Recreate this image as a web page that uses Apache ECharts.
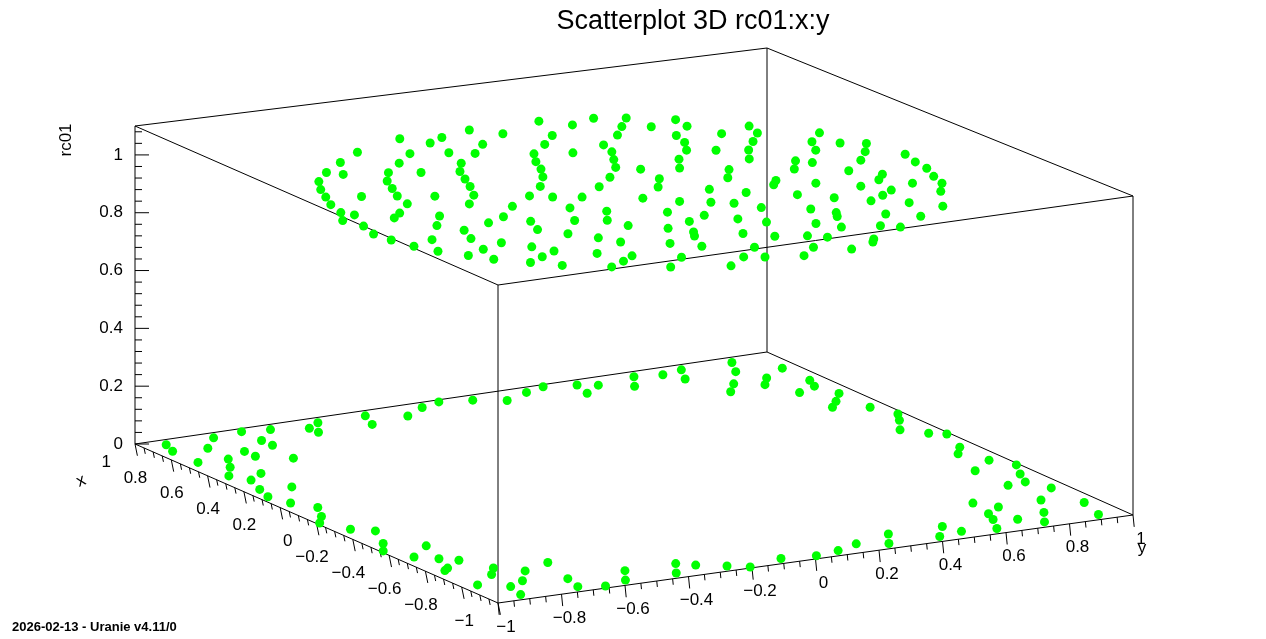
<!DOCTYPE html>
<html><head><meta charset="utf-8">
<script src="https://cdn.jsdelivr.net/npm/echarts@6/dist/echarts.min.js"></script>
<style>html,body{margin:0;padding:0;background:#fff}#main{width:1266px;height:639px}</style>
</head><body><div id="main"></div>
<script>
// rc01 = 1 : points of the inner disk [x, y]
var innerPts = [
[-0.85,-0.18],[-0.85,0.05],[-0.85,0.2],
[-0.78,-0.33],[-0.78,-0.1],[-0.78,0.12],[-0.78,0.31],
[-0.7,-0.47],[-0.7,-0.25],[-0.7,-0.02],[-0.7,0.21],[-0.7,0.44],
[-0.62,-0.58],[-0.62,-0.36],[-0.62,-0.14],[-0.62,0.09],[-0.62,0.3],[-0.62,0.55],
[-0.55,-0.64],[-0.55,-0.43],[-0.55,-0.2],[-0.55,0.03],[-0.55,0.26],[-0.55,0.48],[-0.55,0.66],
[-0.47,-0.71],[-0.47,-0.52],[-0.47,-0.31],[-0.47,-0.08],[-0.47,0.15],[-0.47,0.37],[-0.47,0.6],
[-0.4,-0.75],[-0.4,-0.55],[-0.4,-0.34],[-0.4,-0.12],[-0.4,0.1],[-0.4,0.33],[-0.4,0.52],[-0.4,0.74],
[-0.32,-0.8],[-0.32,-0.6],[-0.32,-0.39],[-0.32,-0.2],[-0.32,0.04],[-0.32,0.22],[-0.32,0.45],[-0.32,0.63],[-0.32,0.79],
[-0.24,-0.83],[-0.24,-0.65],[-0.24,-0.44],[-0.24,-0.22],[-0.24,-0.03],[-0.24,0.18],[-0.24,0.38],[-0.24,0.58],[-0.24,0.81],
[-0.15,-0.85],[-0.15,-0.62],[-0.15,-0.41],[-0.15,-0.17],[-0.15,0.06],[-0.15,0.27],[-0.15,0.49],[-0.15,0.7],[-0.15,0.84],
[-0.07,-0.86],[-0.07,-0.66],[-0.07,-0.45],[-0.07,-0.24],[-0.07,-0.01],[-0.07,0.2],[-0.07,0.41],[-0.07,0.64],[-0.07,0.85],
[0.02,-0.84],[0.02,-0.6],[0.02,-0.37],[0.02,-0.15],[0.02,0.09],[0.02,0.31],[0.02,0.52],[0.02,0.73],[0.02,0.87],
[0.1,-0.86],[0.1,-0.68],[0.1,-0.46],[0.1,-0.27],[0.1,-0.05],[0.1,0.14],[0.1,0.36],[0.1,0.57],[0.1,0.79],
[0.18,-0.82],[0.18,-0.61],[0.18,-0.4],[0.18,-0.19],[0.18,0.03],[0.18,0.25],[0.18,0.47],[0.18,0.68],[0.18,0.84],
[0.27,-0.8],[0.27,-0.59],[0.27,-0.36],[0.27,-0.13],[0.27,0.1],[0.27,0.3],[0.27,0.52],[0.27,0.72],
[0.35,-0.77],[0.35,-0.56],[0.35,-0.33],[0.35,-0.09],[0.35,0.14],[0.35,0.37],[0.35,0.58],[0.35,0.79],
[0.43,-0.74],[0.43,-0.53],[0.43,-0.3],[0.43,-0.06],[0.43,0.18],[0.43,0.41],[0.43,0.64],
[0.51,-0.7],[0.51,-0.48],[0.51,-0.25],[0.51,-0.02],[0.51,0.2],[0.51,0.43],[0.51,0.66],
[0.59,-0.63],[0.59,-0.4],[0.59,-0.16],[0.59,0.06],[0.59,0.29],[0.59,0.51],
[0.67,-0.54],[0.67,-0.32],[0.67,-0.09],[0.67,0.13],[0.67,0.35],[0.67,0.52],
[0.75,-0.44],[0.75,-0.21],[0.75,0.02],[0.75,0.24],[0.75,0.41],
[0.83,-0.26],[0.83,-0.04],[0.83,0.18],
[-0.81,0.29],[-0.81,-0.05],[-0.66,-0.41],[-0.66,0.17],[-0.66,0.4],[-0.51,-0.58],[-0.51,-0.1],[-0.51,0.35],
[-0.36,-0.68],[-0.36,-0.03],[-0.36,0.58],[-0.2,-0.75],[-0.2,-0.3],[-0.2,0.13],[-0.2,0.66],[-0.11,-0.52],
[-0.11,0.38],[0.06,-0.72],[0.06,-0.22],[0.06,0.6],[0.22,-0.5],[0.22,0.15],[0.22,0.78],[0.31,-0.68],
[0.31,0.44],[0.47,-0.4],[0.47,0.08],[0.47,0.55],[0.63,-0.22],[0.63,0.42],[0.79,-0.15],[0.79,0.33],
[0.55,-0.6],[-0.28,0.72],[0.14,-0.8]
];
// rc01 = 0 : points outside the disk [x, y]
var outerPts = [
[0.95,-0.93],[0.95,-0.78],[0.95,-0.6],[0.95,-0.45],[0.95,-0.3],[0.95,-0.12],[0.95,0.04],[0.95,0.21],[0.95,0.37],[0.95,0.55],[0.95,0.7],[0.95,0.86],
[-0.95,-0.9],[-0.95,-0.72],[-0.95,-0.57],[-0.95,-0.41],[-0.95,-0.25],[-0.95,-0.08],[-0.95,0.1],[-0.95,0.26],[-0.95,0.42],[-0.95,0.6],[-0.95,0.75],[-0.95,0.92],
[-0.82,0.95],[-0.64,0.95],[-0.47,0.95],[-0.3,0.95],[-0.14,0.95],[0.03,0.95],[0.19,0.95],[0.35,0.95],[0.52,0.95],[0.68,0.95],[0.83,0.95],
[-0.8,-0.95],[-0.62,-0.95],[-0.45,-0.95],[-0.28,-0.95],[-0.1,-0.95],[0.06,-0.95],[0.23,-0.95],[0.4,-0.95],[0.57,-0.95],[0.74,-0.95],[0.88,-0.95],
[0.86,-0.85],[0.86,-0.68],[0.86,-0.5],[0.86,-0.33],[0.86,0.35],[0.86,0.5],[0.86,0.66],[0.86,0.82],
[-0.86,-0.88],[-0.86,-0.7],[-0.86,-0.52],[-0.86,-0.36],[-0.86,0.31],[-0.86,0.48],[-0.86,0.64],[-0.86,0.8],
[-0.74,0.86],[-0.56,0.86],[-0.38,0.86],[0.4,0.86],[0.58,0.86],[0.76,0.86],
[-0.72,-0.86],[-0.54,-0.86],[-0.36,-0.86],[0.38,-0.86],[0.55,-0.86],[0.73,-0.86],
[0.75,0.75],[0.7,0.82],[-0.75,0.72],[-0.8,0.66],[0.72,-0.78],[0.8,-0.68],[-0.73,-0.76],[-0.66,-0.82],[0.78,-0.78],[-0.82,-0.82],
[0.91,-0.5],[0.9,0.12],[0.92,0.42],[0.89,-0.2],[0.97,-0.68],[0.98,0.28],[0.93,0.63],[-0.9,-0.32],[-0.91,0.18],
[-0.93,0.5],[-0.98,-0.65],[-0.97,0.02],[-0.89,0.7],[-0.2,0.91],[0.1,0.9],[0.45,0.9],[-0.55,0.92],[0.25,0.98],
[-0.38,0.99],[0.62,0.93],[-0.15,-0.9],[0.15,-0.91],[-0.5,-0.9],[0.5,-0.92],[-0.35,-0.99],[0.32,-0.97],[0.65,-0.9],
[-0.6,-0.93],[0.0,-0.99],[0.0,0.99],[0.98,-0.05],[-0.99,-0.2],[0.68,0.7],[-0.68,0.68],[0.65,-0.7],[-0.68,-0.66]
];
var tickValues = [-1,-0.8,-0.6,-0.4,-0.2,0,0.2,0.4,0.6,0.8,1];
var zTickValues = [0,0.2,0.4,0.6,0.8,1];
var zTop = 1.1;

// corners of the drawn box: [x=1,y=-1], [x=-1,y=-1], [x=-1,y=1], [x=1,y=1]
var bottomFace = [[135,444],[498,603],[1133,515],[767,352]];
var topFace = [[135,126],[498,285],[1133,196],[767,48]];
function face(f, x, y) {
  var u = (1 - x) / 2, v = (y + 1) / 2;
  var r = [0, 1].map(function (k) {
    return (1 - v) * ((1 - u) * f[0][k] + u * f[1][k]) + v * ((1 - u) * f[3][k] + u * f[2][k]);
  });
  return r;
}
function proj(x, y, z) {
  var a = face(bottomFace, x, y), b = face(topFace, x, y), t = z / zTop;
  return [a[0] + (b[0] - a[0]) * t, a[1] + (b[1] - a[1]) * t];
}
function fmt(v) {
  var s = String(Math.round(v * 10) / 10);
  return s.replace('-', '\u2212');
}

var data = [];
innerPts.forEach(function (p) { data.push([p[0], p[1], 1]); });
outerPts.forEach(function (p) { data.push([p[0], p[1], 0]); });

var g = [];
function line(a, b) {
  g.push({type: 'line', shape: {x1: a[0], y1: a[1], x2: b[0], y2: b[1]}, style: {stroke: '#000', lineWidth: 1}, z: 1});
}
function text(str, x, y, align, vAlign, size, extra) {
  var o = {type: 'text', x: x, y: y, style: {text: str, fill: '#000', font: (size || 17) + 'px "Liberation Sans", Arial', textAlign: align, textVerticalAlign: vAlign}, z: 5};
  if (extra) for (var k in extra) o[k] = extra[k];
  g.push(o);
}
// box edges
for (var k = 0; k < 4; k++) {
  line(bottomFace[k], bottomFace[(k + 1) % 4]);
  line(topFace[k], topFace[(k + 1) % 4]);
  line(bottomFace[k], topFace[k]);
}
// z axis ticks (left edge)
for (var i = 0; i <= 27; i++) {
  var p = proj(1, -1, i * 0.04), len = i % 5 === 0 ? 14 : 7;
  line(p, [p[0] + len, p[1]]);
}
zTickValues.forEach(function (v) { var p = proj(1, -1, v); text(v === 0 ? '0' : String(v), p[0] - 12, p[1], 'right', 'middle'); });
// x and y axis ticks, pointing outward
for (i = 0; i <= 40; i++) {
  var v = -1 + i * 0.05;
  len = i % 4 === 0 ? 12 : 6;
  p = proj(v, -1, 0);
  line(p, [p[0] + 0.2 * len, p[1] + 0.98 * len]);
  p = proj(-1, v, 0);
  line(p, [p[0] + 0.1 * len, p[1] + 0.99 * len]);
}
tickValues.forEach(function (v) {
  var p = proj(v, -1, 0);
  text(fmt(v), p[0] - 24, p[1] + 18, 'right', 'middle');
  p = proj(-1, v, 0);
  text(fmt(v), p[0] + 8, p[1] + 24, 'center', 'middle');
});
text('rc01', 66, 140, 'center', 'middle', 17, {rotation: Math.PI / 2});
text('x', 81, 481, 'center', 'middle', 17, {rotation: 0.4});
text('y', 1142, 548, 'center', 'middle', 17);
text('Scatterplot 3D rc01:x:y', 693, 22, 'center', 'middle', 27);
g.push({type: 'text', x: 12, y: 627, style: {text: '2026-02-13 - Uranie v4.11/0', fill: '#000', font: 'bold 13px "Liberation Sans", Arial', textVerticalAlign: 'middle'}, z: 5});

var chart = echarts.init(document.getElementById('main'));
chart.setOption({
  animation: false,
  backgroundColor: '#fff',
  grid: {left: 0, right: 0, top: 0, bottom: 0},
  xAxis: {type: 'value', min: 0, max: 1266, show: false},
  yAxis: {type: 'value', min: 0, max: 639, inverse: true, show: false},
  graphic: g,
  series: [{
    type: 'custom',
    data: data,
    z: 3,
    renderItem: function (params, api) {
      var pt = api.coord(proj(api.value(0), api.value(1), api.value(2)));
      return {type: 'circle', shape: {cx: pt[0], cy: pt[1], r: 4.5}, style: {fill: '#00ff00'}};
    }
  }]
});
</script></body></html>
